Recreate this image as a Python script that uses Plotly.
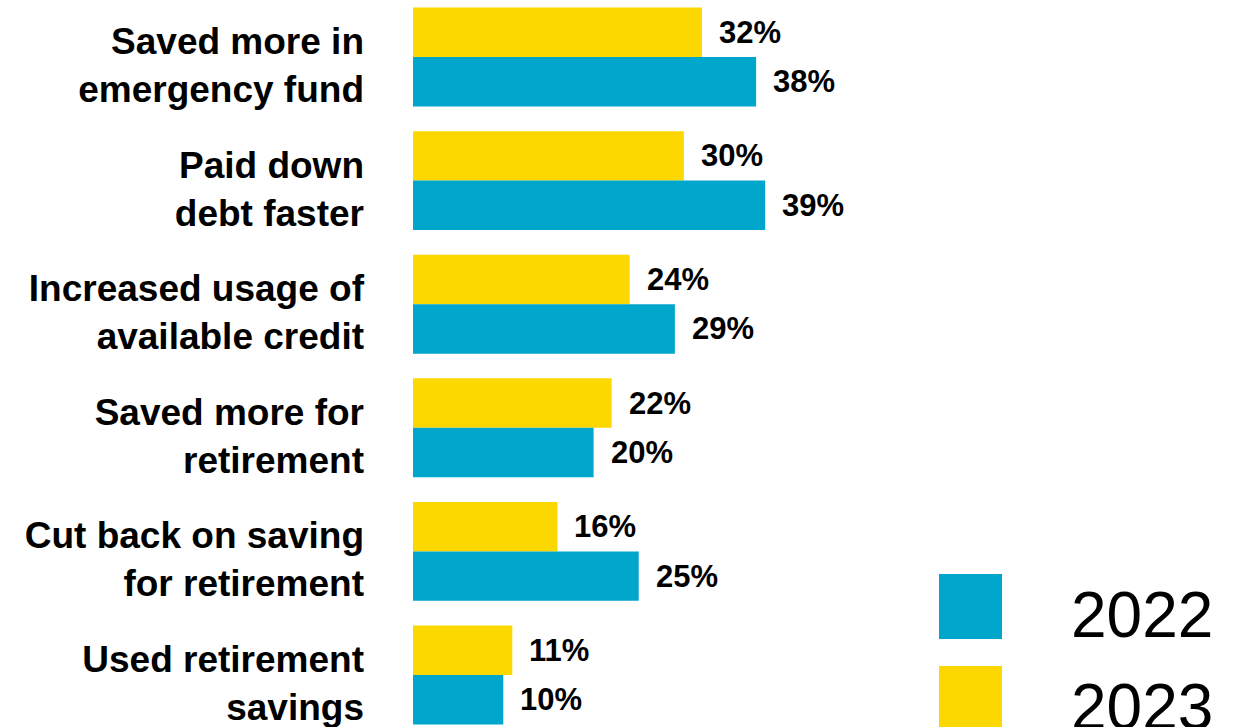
import plotly.graph_objects as go

categories = [
    "Saved more in<br>emergency fund",
    "Paid down<br>debt faster",
    "Increased usage of<br>available credit",
    "Saved more for<br>retirement",
    "Cut back on saving<br>for retirement",
    "Used retirement<br>savings",
]
values_2023 = [32, 30, 24, 22, 16, 11]
values_2022 = [38, 39, 29, 20, 25, 10]

BLUE = "#00A6CB"
YELLOW = "#FDD800"
FONT = "Liberation Sans, Arial, sans-serif"

fig = go.Figure()
series = [("2023", values_2023, YELLOW), ("2022", values_2022, BLUE)]
for name, vals, color in series:
    fig.add_trace(go.Bar(
        y=categories, x=vals, name=name, orientation="h",
        marker=dict(color=color, line=dict(width=0)),
        showlegend=False, hoverinfo="x+name",
    ))

# value labels just past the end of each bar
offsets = {"2023": -0.2, "2022": 0.2}
for name, vals, color in series:
    for i, v in enumerate(vals):
        fig.add_annotation(
            x=v, y=i + offsets[name], xref="x", yref="y",
            text=f"<b>{v}%</b>", showarrow=False,
            xanchor="left", yanchor="middle", xshift=15,
            font=dict(family=FONT, size=31, color="black"),
        )

# legend drawn as large swatches with year labels
legend_items = [("2022", BLUE, 0.1657, 0.1546), ("2023", YELLOW, 0.0392, 0.028)]
for label, color, ycen, ytext in legend_items:
    fig.add_shape(
        type="rect", xref="paper", yref="paper",
        x0=(939 - 413) / 824, x1=(1002 - 413) / 824,
        y0=ycen - 0.0447, y1=ycen + 0.0447,
        fillcolor=color, line=dict(width=0), layer="above",
    )
    fig.add_annotation(
        x=(1069 - 413) / 824, y=ytext, xref="paper", yref="paper",
        text=label, showarrow=False, xanchor="left", yanchor="middle",
        font=dict(family=FONT, size=64, color="black"),
    )

fig.update_layout(
    width=1237, height=727,
    margin=dict(l=413, r=0, t=0, b=0),
    paper_bgcolor="white", plot_bgcolor="white",
    barmode="group", bargap=0.2, bargroupgap=0,
    xaxis=dict(range=[0, 824 / 9.03], visible=False, fixedrange=True),
    yaxis=dict(
        range=[5 + 52 / 123.6, -57 / 123.6],
        showgrid=False, zeroline=False, showline=False, ticks="",
        ticklabelstandoff=48, ticklabelshift=-8,
        tickfont=dict(family=FONT, size=37, color="black", weight="bold"),
    ),
)

fig.write_html("out.html")
